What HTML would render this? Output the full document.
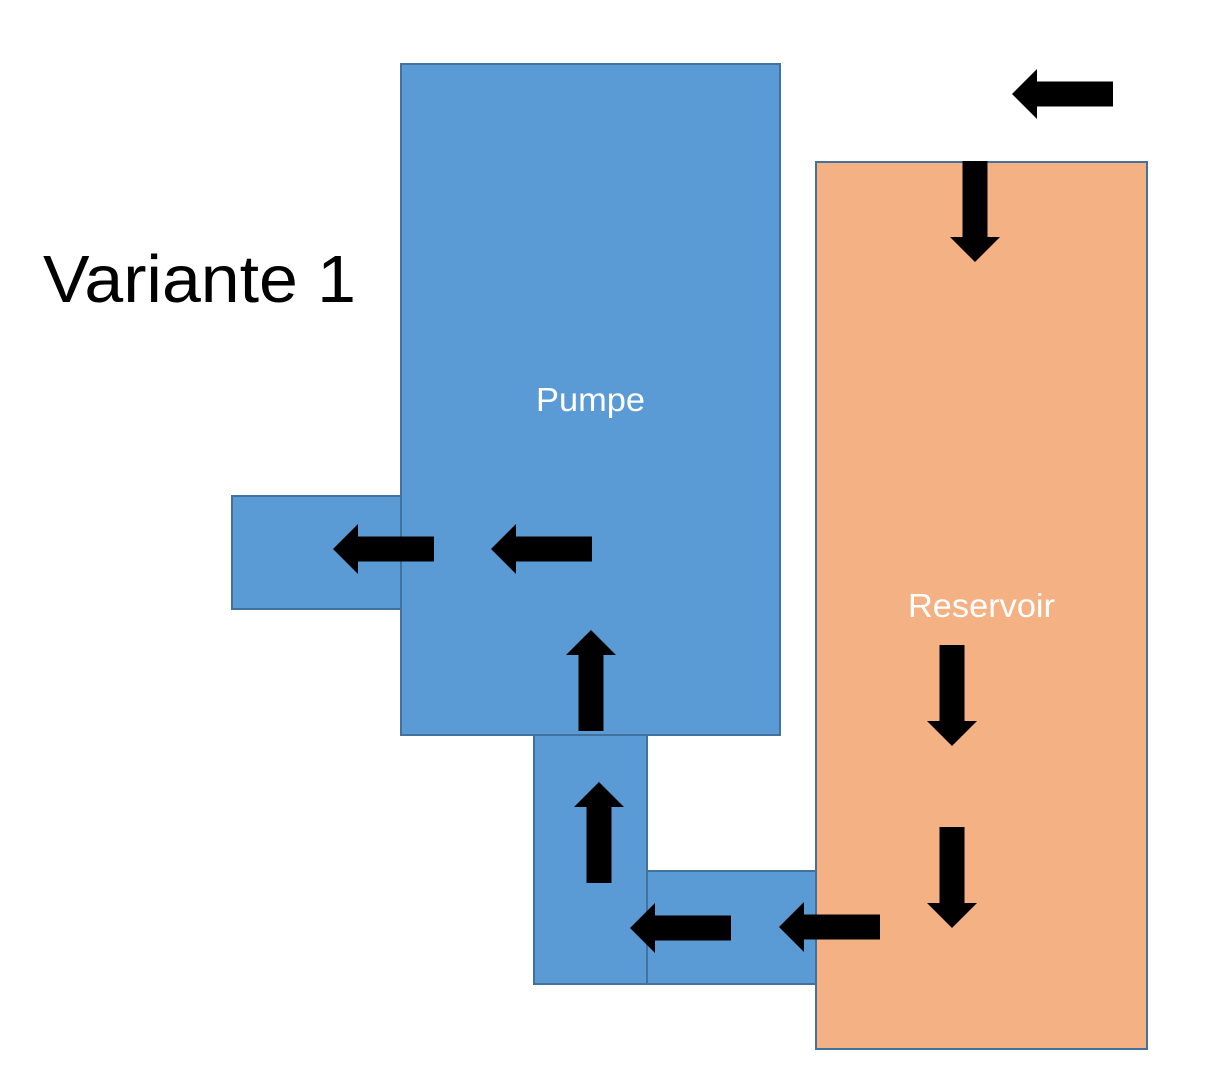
<!DOCTYPE html>
<html>
<head>
<meta charset="utf-8">
<style>
html,body{margin:0;padding:0;background:#fff;width:1205px;height:1076px;overflow:hidden}
svg{display:block}
text{font-family:"Liberation Sans",sans-serif}
</style>
</head>
<body>
<svg width="1205" height="1076" viewBox="0 0 1205 1076" xmlns="http://www.w3.org/2000/svg">
<rect width="1205" height="1076" fill="#fff"/>
<g fill="#5B9BD5" stroke="#41719C" stroke-width="2">
<rect x="232" y="496" width="169" height="113"/>
<rect x="534" y="735" width="113" height="249"/>
<rect x="647" y="871" width="169" height="113"/>
<rect x="401" y="64" width="379" height="671"/>
</g>
<rect x="816" y="162" width="331" height="887" fill="#F4B183" stroke="#41719C" stroke-width="2"/>
<text x="43" y="302" font-size="67" fill="#000" textLength="313" lengthAdjust="spacingAndGlyphs">Variante 1</text>
<text x="536" y="411" font-size="33" fill="#fff" textLength="109" lengthAdjust="spacingAndGlyphs">Pumpe</text>
<text x="908" y="617" font-size="33" fill="#fff" textLength="147" lengthAdjust="spacingAndGlyphs">Reservoir</text>
<g fill="#000">
<polygon points="333,549 358,524 358,536.5 434,536.5 434,561.5 358,561.5 358,574"/>
<polygon points="491,549 516,524 516,536.5 592,536.5 592,561.5 516,561.5 516,574"/>
<polygon points="630,928 655,903 655,915.5 731,915.5 731,940.5 655,940.5 655,953"/>
<polygon points="779,927 804,902 804,914.5 880,914.5 880,939.5 804,939.5 804,952"/>
<polygon points="1012,94 1037,69 1037,81.5 1113,81.5 1113,106.5 1037,106.5 1037,119"/>
<polygon points="591,630 616,655 603.5,655 603.5,731 578.5,731 578.5,655 566,655"/>
<polygon points="599,782 624,807 611.5,807 611.5,883 586.5,883 586.5,807 574,807"/>
<polygon points="975,262 1000,237 987.5,237 987.5,161 962.5,161 962.5,237 950,237"/>
<polygon points="952,746 977,721 964.5,721 964.5,645 939.5,645 939.5,721 927,721"/>
<polygon points="952,928 977,903 964.5,903 964.5,827 939.5,827 939.5,903 927,903"/>
</g>
</svg>
</body>
</html>
